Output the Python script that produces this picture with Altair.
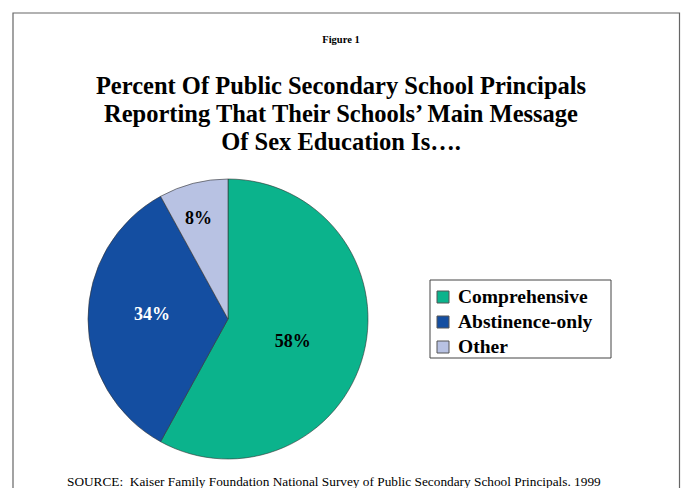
import altair as alt
import pandas as pd

categories = ["Comprehensive", "Abstinence-only", "Other"]
values = [58, 34, 8]
labels = ["58%", "34%", "8%"]
order = [1, 2, 3]
colors = ["#0BB38C", "#144EA1", "#B8C2E3"]

title_lines = [
    "Percent Of Public Secondary School Principals",
    "Reporting That Their Schools\u2019 Main Message",
    "Of Sex Education Is\u2026.",
]
figure_label = "Figure 1"
source_text = "SOURCE:\u00a0 Kaiser Family Foundation National Survey of Public Secondary School Principals. 1999"

df = pd.DataFrame({"category": categories, "value": values, "label": labels, "ord": order})

SERIF = "Liberation Serif"
CX, CY, R = 220, 311, 140

theta_scale = alt.Scale(domain=[0, 100])
color_scale = alt.Scale(domain=categories, range=colors)
color_enc = alt.Color("category:N", scale=color_scale, legend=None)

base = alt.Chart(df)

pie = base.mark_arc(radius=R, stroke="#333333", strokeWidth=0.6).encode(
    theta=alt.Theta("value:Q", stack=True, scale=theta_scale),
    order=alt.Order("ord:Q"),
    color=color_enc,
    x=alt.value(CX),
    y=alt.value(CY),
)


def slice_label(cat, radius, color, dx=0, dy=0):
    return (
        base.transform_window(cum="sum(value)", sort=[alt.SortField("ord")])
        .transform_calculate(mid="datum.cum - datum.value / 2")
        .transform_filter(alt.datum.category == cat)
        .mark_text(
            radius=radius, dx=dx, dy=dy, font=SERIF, fontSize=18,
            fontWeight="bold", color=color,
        )
        .encode(
            theta=alt.Theta("mid:Q", scale=theta_scale),
            text="label:N",
            x=alt.value(CX),
            y=alt.value(CY),
        )
    )


lab1 = slice_label("Comprehensive", 69, "black", dx=-2, dy=6)
lab2 = slice_label("Abstinence-only", 76, "white", dy=-4)
lab3 = slice_label("Other", 103, "black", dx=-4)


def note(text, x, y, size, weight="bold", align="center"):
    return alt.Chart(pd.DataFrame({"t": [text]})).mark_text(
        font=SERIF, fontSize=size, fontWeight=weight, align=align,
        baseline="middle", color="black",
    ).encode(text="t:N", x=alt.value(x), y=alt.value(y))


border = alt.Chart(pd.DataFrame({"t": [0]})).mark_rect(
    fill=None, stroke="#666666", strokeWidth=1.2
).encode(x=alt.value(5), y=alt.value(5), x2=alt.value(671.5), y2=alt.value(520))

# legend drawn by hand
legend_box = alt.Chart(pd.DataFrame({"t": [0]})).mark_rect(
    fill="white", stroke="#444444", strokeWidth=1
).encode(x=alt.value(422), y=alt.value(272), x2=alt.value(603), y2=alt.value(350))

leg_y = alt.Y("category:N", sort=categories, axis=None,
              scale=alt.Scale(type="point", domain=categories, range=[289, 339], padding=0))

legend_symbols = base.mark_square(size=144, opacity=1, stroke="#555555", strokeWidth=1).encode(
    x=alt.value(435), y=leg_y, color=color_enc,
    fill=alt.Fill("category:N", scale=color_scale, legend=None),
)
legend_labels = base.mark_text(
    font=SERIF, fontSize=19.5, fontWeight="bold", align="left", baseline="middle", color="black"
).encode(x=alt.value(450), y=leg_y, text="category:N")

layers = [border, pie, lab1, lab2, lab3, legend_box, legend_symbols, legend_labels,
          note(figure_label, 333, 32, 10.5),
          note(title_lines[0], 333, 79, 24.5),
          note(title_lines[1], 333, 107, 24.5),
          note(title_lines[2], 333, 135, 24.5),
          note(source_text, 59, 474, 13.3, weight="normal", align="left")]

chart = alt.layer(*layers).properties(
    width=673, height=480, autosize=alt.AutoSizeParams(type="none"), padding=0,
    background="white",
).configure_view(stroke=None)

chart.save("out.html", embed_options={"renderer": "svg", "actions": False})
